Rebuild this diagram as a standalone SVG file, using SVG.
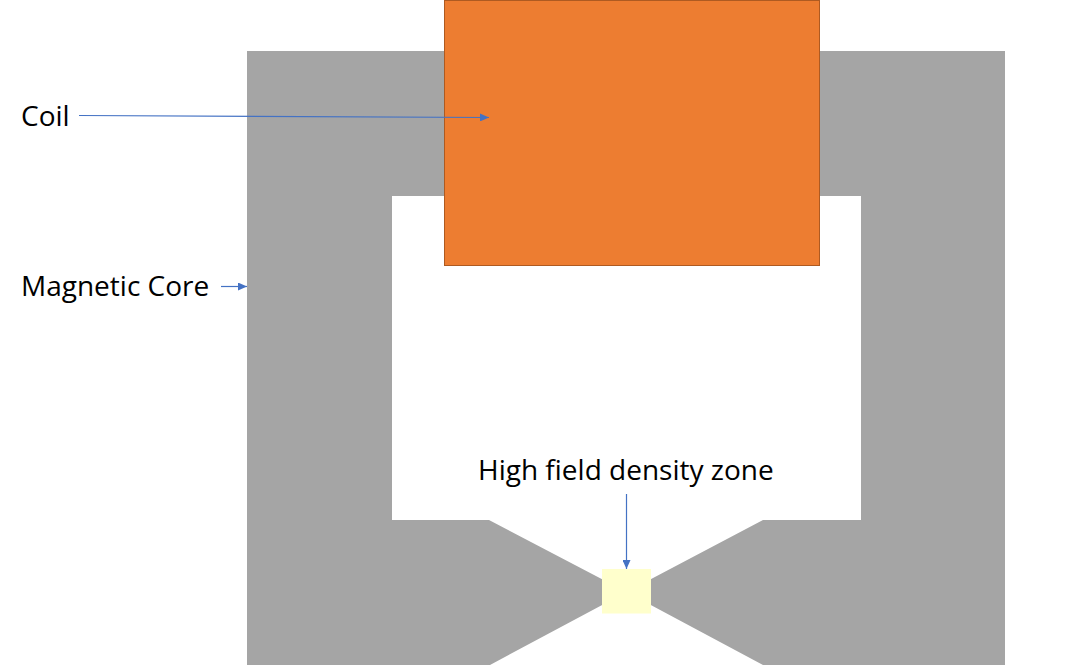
<svg xmlns="http://www.w3.org/2000/svg" width="1069" height="665" viewBox="0 0 1069 665">
<style>
text{font-family:"Open Sans","Noto Sans","Liberation Sans",sans-serif;font-size:28px;fill:#000}
.c{fill:none;stroke:#4472c4;stroke-width:1.2}
</style>
<defs><marker id="a" markerUnits="userSpaceOnUse" markerWidth="9" markerHeight="8" refX="9" refY="4" orient="auto"><path d="M0 0L9 4L0 8Z" fill="#4472c4"/></marker></defs>
<rect width="1069" height="665" fill="#fff"/>
<g id="core"><path d="M247 51H1005V665H763L626.5 592L490 665H247ZM392 196V520H489L626.5 592L763 520H861V196Z" fill="#a5a5a5" fill-rule="evenodd"/></g>
<g id="coil"><rect x="444.500" y="0.500" width="375" height="265" fill="#ed7d31" stroke="#ae5a21" stroke-width="1"/></g>
<g id="zone"><rect x="602" y="569" width="49" height="44.500" fill="#ffffcc"/></g>
<g id="connectors">
<path class="c" d="M79 115.500L489 117.500" marker-end="url(#a)"/>
<path class="c" d="M221 286.500H247" marker-end="url(#a)"/>
<path class="c" d="M626.500 494V569" marker-end="url(#a)"/>
</g>
<g id="labels">
<text x="21" y="126">Coil</text>
<text x="21" y="296">Magnetic Core</text>
<text x="478" y="480">High field density zone</text>
</g>
</svg>
